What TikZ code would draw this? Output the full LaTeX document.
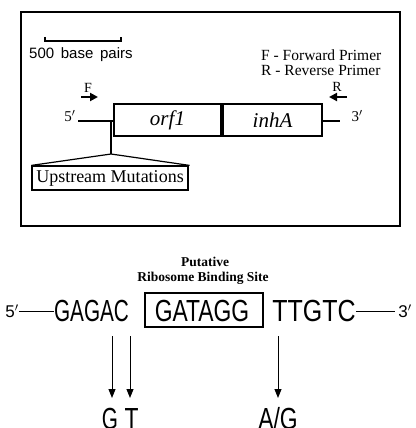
\documentclass[tikz,border=0pt]{standalone}
\usepackage{fontspec}
\setmainfont{Liberation Serif}
\newfontfamily\sansf{Liberation Sans}
\usetikzlibrary{arrows.meta}
\newcommand{\sqtxt}[2]{\scalebox{#1}[1]{#2}}
\begin{document}
\begin{tikzpicture}[x=1pt,y=-1pt,
  thinline/.style={line width=1.2pt},
  genebox/.style={draw,line width=1.3pt,minimum height=32pt,inner sep=0pt,font=\fontsize{21}{22}\selectfont\itshape},
  legend/.style={anchor=west,inner sep=0pt,font=\fontsize{15.5}{16}\selectfont},
  seq/.style={inner sep=0pt,font=\sansf\fontsize{30.5}{32}\selectfont},
  primer/.style={-{Triangle[length=8pt,width=8pt]},line width=2pt},
  mut/.style={-{Triangle[length=9pt,width=7pt]},line width=1pt}]
\useasboundingbox (0,0) rectangle (415,428);
% outer frame
\draw[line width=1.4pt] (21,12) rectangle (400,226);
% scale bar
\coordinate (sb1) at (45,37);
\coordinate (sb2) at (121,37);
\draw[line width=1.2pt] (sb1) -- ++(0,4) -- ([yshift=-4pt]sb2) -- (sb2);
\node[anchor=west,inner sep=0pt,font=\sansf\fontsize{15}{16}\selectfont] (sbt) at (29,55) {500\, base\, pairs};
% legend
\node[legend] (lf) at (261,55) {F - Forward Primer};
\node[legend] (lr) at (261,70) {R - Reverse Primer};
% primers
\node[inner sep=0pt,font=\fontsize{14}{15}\selectfont] (F) at (88,88) {F};
\node[inner sep=0pt,font=\fontsize{14}{15}\selectfont] (R) at (337,87) {R};
\coordinate (fa) at (81,97); \coordinate (fb) at (98,97);
\coordinate (ra) at (347,97); \coordinate (rb) at (329,97);
\draw[primer] (fa) -- (fb);
\draw[primer] (ra) -- (rb);
% gene boxes
\node[genebox,minimum width=107pt] (orf) at (167.5,120) {orf1};
\node[genebox,minimum width=99pt] (inh) at (272.5,120) {inhA};
\node[inner sep=0pt,font=\fontsize{15}{16}\selectfont] (p5) at (70,116) {5$'$};
\node[inner sep=0pt,font=\fontsize{15}{16}\selectfont] (p3) at (357,116) {3$'$};
\coordinate (l5) at (78,121);
\coordinate (l3) at (340,121);
\draw[thinline] (l5) -- (orf.west |- l5);
\draw[thinline] (inh.east |- l3) -- (l3);
% upstream mutations
\node[draw,line width=1.2pt,minimum width=156pt,minimum height=24pt,inner sep=0pt,font=\fontsize{18}{19}\selectfont] (ups) at (110,178) {Upstream Mutations};
\coordinate (us) at (111,121);
\coordinate (uf) at (111,154);
\draw[thinline] (us) -- (uf);
\draw[thinline] (ups.north west) -- (uf) -- ([xshift=1pt]ups.north east);
% bottom: ribosome binding site
\node[inner sep=0pt,font=\bfseries\fontsize{13.5}{14}\selectfont] (put) at (205,262) {Putative};
\node[inner sep=0pt,font=\bfseries\fontsize{13.5}{14}\selectfont] (rbs) at (203,278) {Ribosome Binding Site};
\node[inner sep=0pt,font=\sansf\fontsize{17}{18}\selectfont] (s5) at (12,311) {5$'$};
\node[inner sep=0pt,font=\sansf\fontsize{17}{18}\selectfont] (s3) at (405,311) {3$'$};
\node[seq] (g1) at (91.5,311) {\sqtxt{0.68}{GAGAC}};
\node[draw,line width=1.4pt,minimum width=118pt,minimum height=34pt,inner sep=0pt] (g2) at (204,310) {};
\node[seq] (g2t) at (202,311) {\sqtxt{0.75}{GATAGG}};
\node[seq] (g3) at (314,311) {\sqtxt{0.82}{TTGTC}};
\draw[line width=1pt] (s5.east |- 0,311) -- (g1.west |- 0,311);
\draw[line width=1pt] (g3.east |- 0,311) -- ([xshift=-3pt]s3.west |- 0,311);
% mutation arrows
\coordinate (m1) at (112,336); \coordinate (m2) at (130,336); \coordinate (m3) at (278,336);
\node[seq] (gt1) at (110,419) {\sqtxt{0.68}{G}};
\node[seq] (gt2) at (131.5,419) {\sqtxt{0.75}{T}};
\node[seq] (ag) at (278,419) {\sqtxt{0.75}{A/G}};
\draw[mut] (m1) -- (112,398);
\draw[mut] (m2) -- (130,398);
\draw[mut] (m3) -- (278,398);
\end{tikzpicture}
\end{document}
